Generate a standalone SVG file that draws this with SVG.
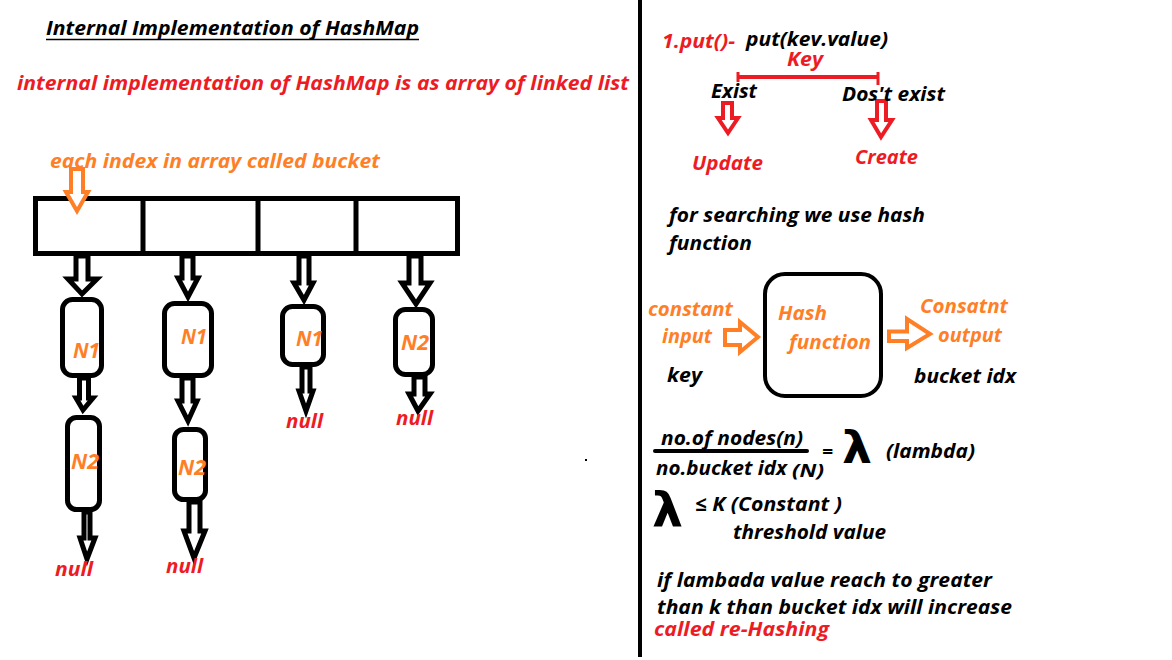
<svg xmlns="http://www.w3.org/2000/svg" width="1172" height="660" viewBox="0 0 1172 660">
<style>
text{font-family:"Open Sans","Noto Sans","Liberation Sans",sans-serif;font-weight:bold;font-style:italic;font-size:20px}
.k{fill:#000}
.r{fill:#ed1c24}
.o{fill:#ff7f27}
.lam{font-family:"DejaVu Sans","Liberation Sans",sans-serif;font-style:normal;font-weight:bold}
.node{fill:none;stroke:#000;stroke-width:5}
.arw{fill:#fff;stroke:#000;stroke-width:5;stroke-linejoin:miter}
.arr{fill:#fff;stroke:#ed1c24;stroke-width:4}
.aro{fill:#fff;stroke:#ff7f27;stroke-width:4}
</style>
<rect width="1172" height="660" fill="#fff"/>
<line x1="640" y1="0" x2="640" y2="657" stroke="#000" stroke-width="4"/>
<rect x="585" y="459" width="2" height="2" fill="#000"/>

<g id="title">
<text class="k" x="46" y="35" textLength="373" lengthAdjust="spacingAndGlyphs">Internal Implementation of HashMap</text>
<line x1="46" y1="39.5" x2="419" y2="39.5" stroke="#000" stroke-width="1.5"/>
</g>
<text class="r" x="17" y="90" textLength="612" lengthAdjust="spacingAndGlyphs">internal implementation of HashMap is as array of linked list</text>
<text class="o" x="50" y="168" textLength="330" lengthAdjust="spacingAndGlyphs">each index in array called bucket</text>

<g id="array">
<rect x="35.5" y="198.5" width="422" height="55" fill="none" stroke="#000" stroke-width="5"/>
<line x1="143" y1="198" x2="143" y2="254" stroke="#000" stroke-width="5"/>
<line x1="258" y1="196" x2="258" y2="254" stroke="#000" stroke-width="5"/>
<line x1="356" y1="198" x2="356" y2="254" stroke="#000" stroke-width="5"/>
</g>

<g id="connectors">
<polygon class="aro" points="71,169 83,169 83,192 88,192 77,211 66,192 71,192"/>
<polygon class="arw" points="76,256 88,256 88,279 97,279 82,294 68,279 76,279"/>
<polygon class="arw" points="79.5,378 88.5,378 88.5,398 93,398 83,410 76,398 79.5,398"/>
<polygon class="arw" points="84,512 90,512 90,538 95,538 87,559 80,538 84,538"/>
<polygon class="arw" points="182,256 193,256 193,278 198,278 188,297 178,278 182,278"/>
<polygon class="arw" points="182,378 193,378 193,401 197,401 188,421 178,401 182,401"/>
<polygon class="arw" points="189,502 200,502 200,531 205,531 194,558 184,531 189,531"/>
<polygon class="arw" points="299,256 309,256 309,283 313,283 304,300 294,283 299,283"/>
<polygon class="arw" points="302,367 310,367 310,391 313,391 306,411 299,391 302,391"/>
<polygon class="arw" points="409,256 421,256 421,283 430,283 416,304 402,283 409,283"/>
<polygon class="arw" points="414,377 425,377 425,394 430,394 418,411 409,394 414,394"/>
<polygon class="arr" points="723,103 732,103 732,118 738,118 728,133 718,118 723,118"/>
<polygon class="arr" points="877,101 886,101 886,120 892,120 881,137 871,120 877,120"/>
<polygon class="aro" points="725,330 740,330 740,322 758,337 740,352 740,345 725,345"/>
<polygon class="aro" points="889,331.5 907,331.5 907,319 930,334 907,348 907,341 889,341"/>
</g>

<g id="c1n1"><rect class="node" x="62.5" y="299.5" width="39" height="76" rx="10"/><text class="o" x="73" y="358" style="font-size:21px" textLength="27" lengthAdjust="spacingAndGlyphs">N1</text></g>
<g id="c1n2"><rect class="node" x="67.5" y="417.5" width="32" height="92" rx="9"/><text class="o" x="71" y="469" style="font-size:21px" textLength="28" lengthAdjust="spacingAndGlyphs">N2</text></g>
<g id="c2n1"><rect class="node" x="164.5" y="303.5" width="47" height="72" rx="10"/><text class="o" x="181" y="344" style="font-size:21px" textLength="26" lengthAdjust="spacingAndGlyphs">N1</text></g>
<g id="c2n2"><rect class="node" x="174.5" y="429.5" width="31" height="70" rx="9"/><text class="o" x="178" y="475" style="font-size:21px" textLength="28" lengthAdjust="spacingAndGlyphs">N2</text></g>
<g id="c3n1"><rect class="node" x="282.5" y="306.5" width="41" height="58" rx="10"/><text class="o" x="296" y="346" style="font-size:21px" textLength="27" lengthAdjust="spacingAndGlyphs">N1</text></g>
<g id="c4n2"><rect class="node" x="395.5" y="309.5" width="37" height="65" rx="10"/><text class="o" x="401" y="350" style="font-size:21px" textLength="28" lengthAdjust="spacingAndGlyphs">N2</text></g>

<g id="nulls">
<text class="r" x="55" y="576" textLength="38" lengthAdjust="spacingAndGlyphs">null</text>
<text class="r" x="166" y="573" textLength="37" lengthAdjust="spacingAndGlyphs">null</text>
<text class="r" x="286" y="428" textLength="37" lengthAdjust="spacingAndGlyphs">null</text>
<text class="r" x="396" y="425" textLength="37" lengthAdjust="spacingAndGlyphs">null</text>
</g>

<g id="put">
<text class="r" x="662" y="48" textLength="73" lengthAdjust="spacingAndGlyphs">1.put()-</text>
<text class="k" x="746" y="46" textLength="142" lengthAdjust="spacingAndGlyphs">put(kev.value)</text>
<text class="r" x="787" y="66" textLength="36" lengthAdjust="spacingAndGlyphs">Key</text>
<line x1="738" y1="77" x2="878" y2="77" stroke="#ed1c24" stroke-width="4"/>
<line x1="738" y1="72" x2="738" y2="82" stroke="#ed1c24" stroke-width="3"/>
<line x1="878" y1="72" x2="878" y2="85" stroke="#ed1c24" stroke-width="3"/>
<text class="k" x="711" y="98" textLength="46" lengthAdjust="spacingAndGlyphs">Exist</text>
<text class="k" x="842" y="101" textLength="103" lengthAdjust="spacingAndGlyphs">Dos't exist</text>
<text class="r" x="692" y="170" textLength="71" lengthAdjust="spacingAndGlyphs">Update</text>
<text class="r" x="855" y="164" textLength="63" lengthAdjust="spacingAndGlyphs">Create</text>
</g>

<text class="k" x="669" y="222" textLength="256" lengthAdjust="spacingAndGlyphs">for searching we use hash</text>
<text class="k" x="669" y="250" textLength="83" lengthAdjust="spacingAndGlyphs">function</text>

<g id="hashfn">
<rect x="765" y="274" width="116" height="122" rx="20" fill="none" stroke="#000" stroke-width="4"/>
<text class="o" x="778" y="320" textLength="49" lengthAdjust="spacingAndGlyphs">Hash</text>
<text class="o" x="789" y="349" textLength="82" lengthAdjust="spacingAndGlyphs">function</text>
</g>
<g id="input">
<text class="o" x="648" y="316" textLength="85" lengthAdjust="spacingAndGlyphs">constant</text>
<text class="o" x="662" y="343" textLength="50" lengthAdjust="spacingAndGlyphs">input</text>
<text class="k" x="667" y="382" textLength="35" lengthAdjust="spacingAndGlyphs">key</text>
</g>
<g id="output">
<text class="o" x="920" y="313" textLength="88" lengthAdjust="spacingAndGlyphs">Consatnt</text>
<text class="o" x="938" y="342" textLength="64" lengthAdjust="spacingAndGlyphs">output</text>
<text class="k" x="914" y="383" textLength="102" lengthAdjust="spacingAndGlyphs">bucket idx</text>
</g>

<g id="formula">
<text class="k" x="661" y="445" textLength="142" lengthAdjust="spacingAndGlyphs">no.of nodes(n)</text>
<line x1="655" y1="451" x2="807" y2="451" stroke="#000" stroke-width="4" stroke-linecap="round"/>
<text class="k" x="656" y="475" textLength="131" lengthAdjust="spacingAndGlyphs">no.bucket idx</text>
<text class="k" x="792" y="477" style="font-size:18px" textLength="32" lengthAdjust="spacingAndGlyphs">(N)</text>
<text class="k" x="822" y="458" style="font-size:18px" textLength="11" lengthAdjust="spacingAndGlyphs">=</text>
<text class="k lam" x="842" y="463" style="font-size:44px" textLength="30" lengthAdjust="spacingAndGlyphs">λ</text>
<text class="k" x="886" y="458" textLength="89" lengthAdjust="spacingAndGlyphs">(lambda)</text>
<text class="k lam" x="652" y="527" style="font-size:48px" textLength="31" lengthAdjust="spacingAndGlyphs">λ</text>
<text class="k" x="695" y="511" textLength="147" lengthAdjust="spacingAndGlyphs">≤ K (Constant )</text>
<text class="k" x="733" y="539" textLength="153" lengthAdjust="spacingAndGlyphs">threshold value</text>
</g>

<g id="rehash">
<text class="k" x="657" y="587" textLength="335" lengthAdjust="spacingAndGlyphs">if lambada value reach to greater</text>
<text class="k" x="657" y="614" textLength="355" lengthAdjust="spacingAndGlyphs">than k than bucket idx will increase</text>
<text class="r" x="654" y="636" textLength="175" lengthAdjust="spacingAndGlyphs">called re-Hashing</text>
</g>
</svg>
